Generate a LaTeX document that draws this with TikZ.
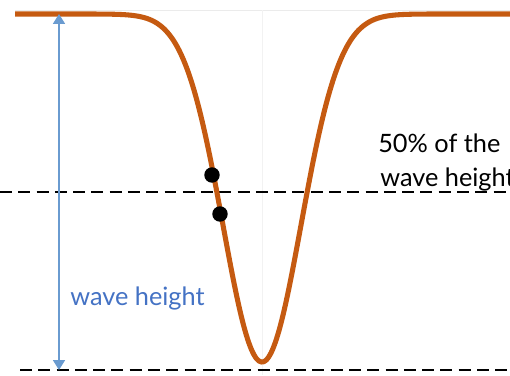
\documentclass[tikz,border=0pt]{standalone}
\usepackage{fontspec}
\setmainfont{Lato}
\usetikzlibrary{arrows.meta}
\definecolor{trough}{RGB}{197,90,17}
\definecolor{arrowblue}{RGB}{106,155,208}
\definecolor{textblue}{RGB}{68,114,196}
\begin{document}
\begin{tikzpicture}[x=0.025cm,y=-0.025cm,
  level/.style={dashed,dash pattern=on 8.5pt off 4.5pt,line width=2pt},
  dot/.style={circle,fill=black,inner sep=0pt,minimum size=11pt},
  label text/.style={font=\fontsize{18}{24}\selectfont,inner sep=0pt}]
 \useasboundingbox (0,0) rectangle (510,375);
 % faint chart grid
 \draw [black!8,line width=0.6pt] (15,10) -- (510,10);
 \draw [black!5,line width=0.6pt] (262,10) -- (262,375);
 % levels
 \draw [level] (0,192) -- (510,192);
 \draw [level] (20,370) -- (510,370);
 % wave profile
 \draw [trough,line width=3.6pt,line join=round] plot[domain=15:510,samples=200,smooth]
   (\x,{14+348*exp(-0.5*((\x-262)/39)^2)});
 % height arrow
 \coordinate (top) at (59,14);
 \coordinate (bottom) at (59,370);
 \draw [arrowblue,line width=0.9pt,{Triangle[width=8.5pt,length=7pt]}-{Triangle[width=8.5pt,length=7pt]}] (top) -- (bottom);
 \node [label text,text=textblue,anchor=base west] (height) at (70,305) {wave height};
 % half height points
 \node [dot] (upper) at (212,175) {};
 \node [dot] (lower) at (220,214) {};
 \node [label text,anchor=base west] (half) at (378,152) {50\% of the};
 \node [label text,anchor=base west] (half2) at (380,186) {wave height};
\end{tikzpicture}
\end{document}
